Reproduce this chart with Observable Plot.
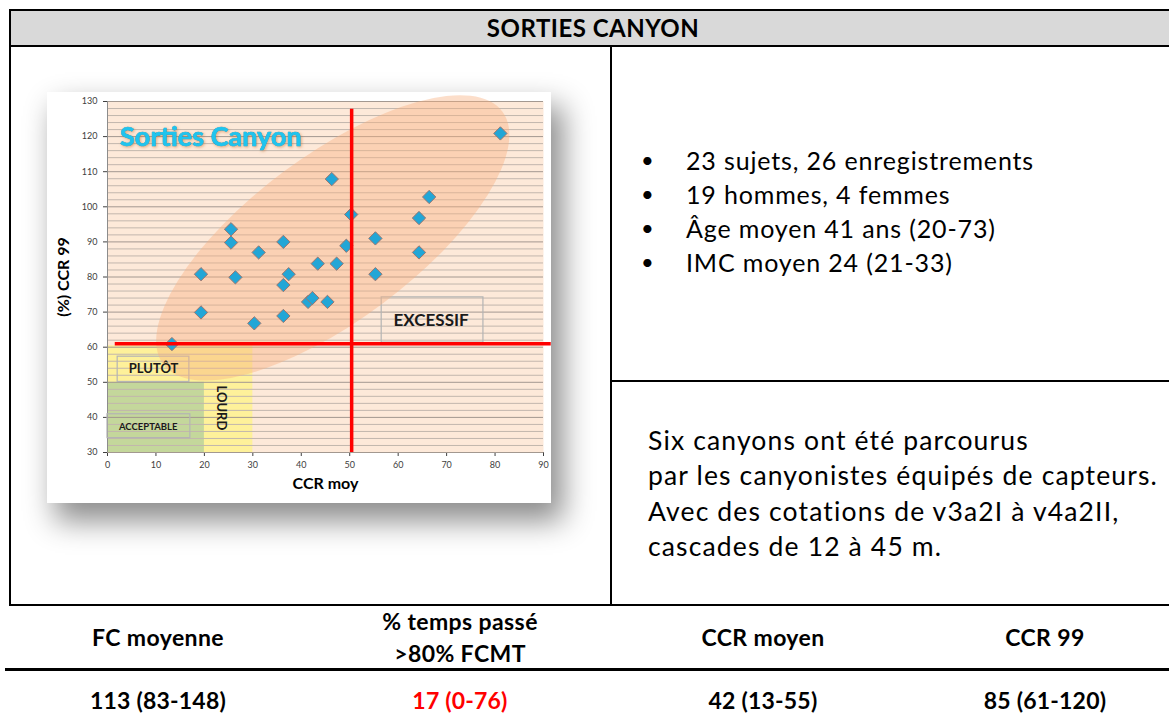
<!DOCTYPE html>
<html><head><meta charset="utf-8">
<script src="https://cdn.jsdelivr.net/npm/d3@7"></script>
<script src="https://cdn.jsdelivr.net/npm/@observablehq/plot@0.6"></script>
<style>
body{margin:0;background:#fff;font-family:Lato,"Open Sans",sans-serif;}
#page{position:relative;width:1169px;height:722px;overflow:hidden;background:#fff;}
.ln{position:absolute;background:#000;}
.t{position:absolute;white-space:nowrap;color:#000;}
#chart{position:absolute;left:47px;top:92px;width:504px;height:411px;background:#fff;box-shadow:10px 16px 28px 2px rgba(0,0,0,0.45);}
</style></head><body><div id="page"><div id="chart"></div></div>
<script>
// ---- data ----
const ccrMoy = [13.3,19.3,19.3,25.5,25.5,26.4,31.2,30.3,36.3,37.4,36.3,36.3,41.4,42.3,43.4,45.4,46.3,47.3,49.3,50.3,55.3,55.3,64.3,64.3,66.4,81.1];
const ccr99  = [60.9,80.8,69.9,93.6,89.8,79.9,87.0,66.8,90.0,80.8,77.7,68.9,72.9,74.0,83.8,72.9,107.9,83.8,88.9,97.8,91.0,80.8,96.8,87.0,102.8,120.9];
const xTicks = [0,10,20,30,40,50,60,70,80,90];
const yTicks = [30,40,50,60,70,80,90,100,110,120,130];
const seuilCCRmoy = 50.4;
const seuilCCR99 = 61;
const zoneNames = ["EXCESSIF","PLUTÔT","LOURD","ACCEPTABLE"];
const headerTitle = "SORTIES CANYON";
const chartTitle = "Sorties Canyon";
const xLabel = "CCR moy";
const yLabel = "(%) CCR 99";
const bullets = ["23 sujets, 26 enregistrements","19 hommes, 4 femmes","Âge moyen 41 ans (20-73)","IMC moyen 24 (21-33)"];
const description = ["Six canyons ont été parcourus","par les canyonistes équipés de capteurs.","Avec des cotations de v3a2I à v4a2II,","cascades de 12 à 45 m."];
const statHeaders = [["FC moyenne"],["% temps passé",">80% FCMT"],["CCR moyen"],["CCR 99"]];
const statValues = ["113 (83-148)","17 (0-76)","42 (13-55)","85 (61-120)"];

// ---- page layout ----
const page = document.getElementById("page");
function line(l,t,w,h){const d=document.createElement("div");d.className="ln";Object.assign(d.style,{left:l+"px",top:t+"px",width:w+"px",height:h+"px"});page.appendChild(d);}
function txt(s,x,cy,size,opts={}){
  const d=document.createElement("div");d.className="t";d.textContent=s;
  const lh=size*1.3;
  d.style.fontSize=size+"px";d.style.lineHeight=lh+"px";d.style.top=(cy-lh/2)+"px";
  if(opts.bold)d.style.fontWeight="700";
  if(opts.color)d.style.color=opts.color;
  if(opts.ls)d.style.letterSpacing=opts.ls+"px";
  if(opts.center){d.style.left=(x-300)+"px";d.style.width="600px";d.style.textAlign="center";}
  else d.style.left=x+"px";
  page.appendChild(d);
}
const hb=document.createElement("div");Object.assign(hb.style,{position:"absolute",left:"10px",top:"11px",width:"1159px",height:"34px",background:"#d9d9d9"});page.appendChild(hb);
line(9,9,1160,2); line(9,45,1160,2); line(9,9,2,597); line(610,46,2,560); line(611,380,558,2); line(9,604,1160,2); line(5,668,1164,3);
txt(headerTitle,593,28,24,{bold:true,center:true,ls:0.5});
bullets.forEach((s,i)=>{txt("•",641,160+34*i,22);txt(s,686,160+34*i,25,{ls:0.85});});
description.forEach((s,i)=>txt(s,648,440+35.5*i,26.5,{ls:1.15}));
const colX=[158,460,763,1045];
statHeaders.forEach((h,i)=>{ if(h.length===1) txt(h[0],colX[i],638,23,{bold:true,center:true,ls:0.4}); else h.forEach((s,j)=>txt(s,colX[i],622+32*j,23,{bold:true,center:true,ls:0.4})); });
statValues.forEach((s,i)=>txt(s,colX[i],701,23,{bold:true,center:true,ls:0.2,color:i===1?"#ff0000":"#000"}));

// ---- chart ----
const pts = ccrMoy.map((x,i)=>({x,y:ccr99[i]}));
const minorGrid = d3.range(32,130,2).filter(v=>v%10!==0);
const zoneYellow=[{x1:0,x2:30,y1:30,y2:60.4}];
const zoneGreen=[{x1:0,x2:20,y1:30,y2:50}];
const labelBoxes=[{x1:56.6,x2:77.6,y1:61.3,y2:74.2},{x1:2.1,x2:16.9,y1:50.1,y2:57.3},{x1:0,x2:17.1,y1:34.1,y2:40.9}];
const labels=[
  {x:66.8,y:67.5,text:zoneNames[0],size:17,rot:0},
  {x:9.5,y:53.9,text:zoneNames[1],size:13,rot:0},
  {x:23.5,y:42.7,text:zoneNames[2],size:13,rot:90},
  {x:8.4,y:37.4,text:zoneNames[3],size:9.5,rot:0}];
const ellipseAxis=[{x:11.6,y:55.0},{x:81.6,y:127.0}];
function ellipseMark(index, scales){
  const [p,q]=ellipseAxis;
  const x1=scales.x(p.x),y1=scales.y(p.y),x2=scales.x(q.x),y2=scales.y(q.y);
  const cx=(x1+x2)/2,cy=(y1+y2)/2,rx=Math.hypot(x2-x1,y2-y1)/2,ang=Math.atan2(y2-y1,x2-x1)*180/Math.PI;
  const e=document.createElementNS("http://www.w3.org/2000/svg","ellipse");
  e.setAttribute("cx",0);e.setAttribute("cy",0);e.setAttribute("rx",rx);e.setAttribute("ry",rx*0.39);
  e.setAttribute("transform",`translate(${cx},${cy}) rotate(${ang})`);
  e.setAttribute("fill","#f7b080");e.setAttribute("fill-opacity",0.42);
  return e;
}
const plot = Plot.plot({
  width:504,height:411,marginLeft:60,marginRight:8,marginTop:9,marginBottom:51,
  style:{background:"white",overflow:"visible",fontFamily:"Lato, sans-serif",fontSize:"9px",color:"#404040"},
  x:{domain:[0,90],ticks:xTicks,tickSize:4,tickPadding:5,label:null},
  y:{domain:[30,130],ticks:yTicks,tickSize:4,tickPadding:6,label:null},
  marks:[
    Plot.frame({fill:"#fde9d9",stroke:null}),
    Plot.rect(zoneYellow,{x1:"x1",x2:"x2",y1:"y1",y2:"y2",fill:"#fef19a"}),
    Plot.rect(zoneGreen,{x1:"x1",x2:"x2",y1:"y1",y2:"y2",fill:"#c4d79b"}),
    Plot.ruleY(minorGrid,{x1:0,x2:90,stroke:"#c2b6ad",strokeWidth:1}),
    Plot.ruleY(yTicks,{x1:0,x2:90,stroke:"#a39890",strokeWidth:1}),
    Plot.ruleX([0],{y1:30,y2:130,stroke:"#8c8c8c"}),
    Plot.rect(labelBoxes,{x1:"x1",x2:"x2",y1:"y1",y2:"y2",fill:"none",stroke:"#b4b4b4",strokeWidth:1.2}),
    ellipseMark,
    Plot.dot(pts,{x:"x",y:"y",symbol:"diamond2",r:6,fill:"#22a6d6",stroke:"#9a7670",strokeWidth:1}),
    Plot.ruleX([seuilCCRmoy],{y1:30,y2:127.8,stroke:"#ff0000",strokeWidth:3.5}),
    Plot.ruleY([seuilCCR99],{x1:1.6,x2:91.6,stroke:"#ff0000",strokeWidth:3.5}),
    Plot.text(labels.filter(d=>d.rot===0),{x:"x",y:"y",text:"text",fontSize:d=>d.size,fontWeight:"bold",fill:"#1a1a1a"}),
    Plot.text(labels.filter(d=>d.rot!==0),{x:"x",y:"y",text:"text",fontSize:13,rotate:90,fontWeight:"bold",fill:"#1a1a1a"}),
    Plot.text([chartTitle],{x:2.6,y:119.7,text:d=>d,textAnchor:"start",fontSize:27,fontWeight:"bold",fill:"#1fc4ee",stroke:"#0d9fcf",strokeWidth:0.6,className:"ctitle"}),
    Plot.text([yLabel],{frameAnchor:"left",dx:-44,rotate:-90,textAnchor:"middle",text:d=>d,fontSize:16,fontWeight:"bold",fill:"#000"}),
    Plot.text([xLabel],{frameAnchor:"bottom",dy:36,text:d=>d,fontSize:16,fontWeight:"bold",fill:"#000"})
  ]
});
plot.querySelectorAll("text").forEach(t=>{ if(t.textContent===chartTitle) t.style.filter="drop-shadow(1px 1px 1.5px rgba(200,110,40,0.55))"; });
document.getElementById("chart").appendChild(plot);
</script></body></html>
